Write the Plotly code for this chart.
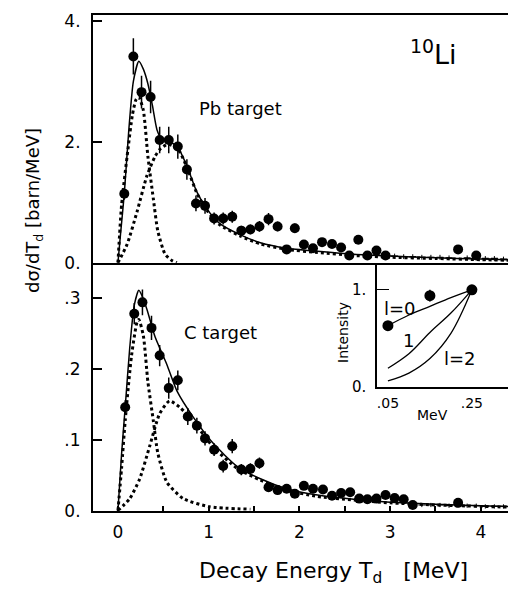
import plotly.graph_objects as go

W, H = 509, 589
FONT = "DejaVu Sans"

# ---------------- Pb target data ----------------
pb_x = [0.07, 0.17, 0.26, 0.36, 0.46, 0.56, 0.66, 0.76, 0.86, 0.96, 1.06, 1.16, 1.26, 1.36,
        1.46, 1.56, 1.66, 1.76, 1.86, 1.95, 2.05, 2.15, 2.25, 2.36, 2.46, 2.55, 2.65, 2.75,
        2.85, 2.95, 3.75, 3.95]
pb_y = [1.14, 3.41, 2.82, 2.74, 2.03, 2.03, 1.92, 1.54, 0.98, 0.94, 0.73, 0.73, 0.76, 0.53,
        0.55, 0.60, 0.72, 0.60, 0.22, 0.57, 0.30, 0.24, 0.34, 0.31, 0.25, 0.12, 0.38, 0.12,
        0.20, 0.12, 0.22, 0.12]
pb_err = [0.10, 0.30, 0.27, 0.27, 0.22, 0.22, 0.20, 0.17, 0.13, 0.13, 0.10, 0.10, 0.10, 0.08,
          0.08, 0.09, 0.10, 0.08, 0.06, 0.08, 0.06, 0.06, 0.06, 0.06, 0.06, 0.05, 0.06, 0.05,
          0.05, 0.05, 0.05, 0.05]
pb_tail_x = [3.05, 3.15, 3.25, 3.35, 3.45, 3.55, 3.65, 3.85, 4.05, 4.15, 4.25]
pb_tail_y = [0.11, 0.10, 0.10, 0.09, 0.09, 0.09, 0.08, 0.08, 0.07, 0.07, 0.06]
pb_tail_err = [0.04, 0.04, 0.04, 0.04, 0.04, 0.04, 0.04, 0.04, 0.04, 0.04, 0.04]

pb_tot_x = [0, 0.03, 0.07, 0.12, 0.17, 0.23, 0.28, 0.33, 0.38, 0.43, 0.48, 0.57, 0.66, 0.76,
            0.87, 0.98, 1.12, 1.35, 1.57, 1.86, 2.2, 2.6, 3.0, 3.5, 4.0, 4.3]
pb_tot_y = [0, 0.5, 1.14, 2.2, 3.0, 3.33, 3.2, 2.96, 2.6, 2.2, 2.05, 2.0, 1.91, 1.60,
            1.17, 0.89, 0.65, 0.46, 0.33, 0.24, 0.19, 0.14, 0.11, 0.08, 0.06, 0.05]
pb_nar_x = [0, 0.04, 0.11, 0.16, 0.20, 0.23, 0.28, 0.33, 0.39, 0.44, 0.52, 0.60, 0.65]
pb_nar_y = [0, 0.95, 1.87, 2.45, 2.70, 2.74, 2.52, 1.76, 1.06, 0.52, 0.14, 0.03, 0]
pb_brd_x = [0, 0.10, 0.21, 0.32, 0.41, 0.46, 0.55, 0.66, 0.76, 0.87, 0.98, 1.12, 1.35, 1.57,
            1.86, 2.2, 2.6, 3.0, 3.5, 4.0, 4.3]
pb_brd_y = [0, 0.30, 0.84, 1.44, 1.76, 1.87, 1.96, 1.88, 1.58, 1.15, 0.87, 0.63, 0.44, 0.31,
            0.22, 0.17, 0.12, 0.09, 0.07, 0.05, 0.04]

# ---------------- C target data ----------------
c_x = [0.08, 0.18, 0.27, 0.37, 0.46, 0.56, 0.66, 0.77, 0.87, 0.96, 1.06, 1.16, 1.26, 1.36,
       1.46, 1.56, 1.66, 1.76, 1.86, 1.95, 2.05, 2.15, 2.26, 2.36, 2.46, 2.56, 2.66, 2.75,
       2.85, 2.95, 3.05, 3.15, 3.25, 3.75]
c_y = [0.146, 0.278, 0.294, 0.258, 0.219, 0.173, 0.184, 0.133, 0.120, 0.102, 0.086, 0.063,
       0.091, 0.058, 0.059, 0.067, 0.033, 0.029, 0.031, 0.024, 0.035, 0.031, 0.030, 0.021,
       0.025, 0.026, 0.017, 0.016, 0.017, 0.022, 0.018, 0.016, 0.008, 0.011]
c_err = [0.010, 0.015, 0.018, 0.017, 0.015, 0.015, 0.014, 0.012, 0.011, 0.010, 0.009, 0.009,
         0.010, 0.008, 0.008, 0.008, 0.006, 0.006, 0.006, 0.005, 0.005, 0.005, 0.005, 0.005,
         0.005, 0.005, 0.005, 0.005, 0.005, 0.005, 0.005, 0.005, 0.004, 0.004]
c_tail_x = [3.35, 3.45, 3.55, 3.65, 3.85, 3.95, 4.05, 4.15, 4.25]
c_tail_y = [0.008, 0.008, 0.008, 0.007, 0.007, 0.007, 0.006, 0.006, 0.006]
c_tail_err = [0.003, 0.003, 0.003, 0.003, 0.003, 0.003, 0.003, 0.003, 0.003]

c_tot_x = [0, 0.04, 0.08, 0.13, 0.18, 0.23, 0.27, 0.32, 0.41, 0.54, 0.65, 0.83, 1.05, 1.31,
           1.57, 1.86, 2.2, 2.6, 3.0, 3.5, 4.0, 4.3]
c_tot_y = [0, 0.08, 0.146, 0.23, 0.29, 0.311, 0.302, 0.284, 0.245, 0.206, 0.169, 0.132, 0.095,
           0.063, 0.045, 0.031, 0.022, 0.016, 0.012, 0.009, 0.007, 0.006]
c_nar_x = [0, 0.04, 0.08, 0.15, 0.21, 0.23, 0.28, 0.33, 0.39, 0.44, 0.54, 0.72, 1.01, 1.46]
c_nar_y = [0, 0.06, 0.127, 0.219, 0.266, 0.27, 0.247, 0.182, 0.127, 0.081, 0.040, 0.017,
           0.0055, 0.002]
c_brd_x = [0, 0.13, 0.24, 0.35, 0.46, 0.57, 0.68, 0.83, 1.05, 1.31, 1.57, 1.86, 2.2, 2.6, 3.0,
           3.5, 4.0, 4.3]
c_brd_y = [0, 0.017, 0.045, 0.091, 0.137, 0.155, 0.146, 0.126, 0.090, 0.060, 0.043, 0.029,
           0.020, 0.015, 0.011, 0.008, 0.006, 0.005]

# ---------------- inset ----------------
in_x = [0.05, 0.15, 0.25]
in_y = [0.63, 0.94, 1.0]
in_err = [0.03, 0.06, 0.03]
cur_x = [0.05, 0.10, 0.15, 0.20, 0.25]
l0_y = [0.63, 0.74, 0.83, 0.92, 1.0]
l1_y = [0.19, 0.34, 0.56, 0.76, 1.0]
l2_y = [0.06, 0.14, 0.29, 0.55, 1.0]

x_major = [0, 1, 2, 3, 4]
x_major_text = ["0", "1", "2", "3", "4"]
x_minor = [0.5, 1.5, 2.5, 3.5]

# ---------------- figure ----------------
def px2x(p):
    return p / W

def px2y(p):
    return (H - p) / H

fig = go.Figure()

DOT = "3px,3px"

def add_panel(xa, ya, dx, dy, de, tx, ty, te, totx, toty, nx, ny, bx, by, msz=10):
    fig.add_trace(go.Scatter(x=bx, y=by, mode="lines", line=dict(color="black", width=3, dash=DOT, shape="spline", smoothing=0.6),
                             xaxis=xa, yaxis=ya, showlegend=False, hoverinfo="skip"))
    fig.add_trace(go.Scatter(x=nx, y=ny, mode="lines", line=dict(color="black", width=3, dash=DOT, shape="spline", smoothing=0.6),
                             xaxis=xa, yaxis=ya, showlegend=False, hoverinfo="skip"))
    fig.add_trace(go.Scatter(x=totx, y=toty, mode="lines", line=dict(color="black", width=1.5, shape="spline", smoothing=0.6),
                             xaxis=xa, yaxis=ya, showlegend=False, hoverinfo="skip"))
    fig.add_trace(go.Scatter(x=tx, y=ty, mode="markers",
                             marker=dict(symbol="line-ew", size=5, line=dict(color="black", width=1.2)),
                             error_y=dict(type="data", array=te, color="black", thickness=1, width=0),
                             xaxis=xa, yaxis=ya, showlegend=False, hoverinfo="skip"))
    fig.add_trace(go.Scatter(x=dx, y=dy, mode="markers",
                             marker=dict(symbol="circle", size=msz, color="black"),
                             error_y=dict(type="data", array=de, color="black", thickness=1.5, width=0),
                             xaxis=xa, yaxis=ya, showlegend=False, hoverinfo="skip"))

add_panel("x2", "y2", pb_x, pb_y, pb_err, pb_tail_x, pb_tail_y, pb_tail_err,
          pb_tot_x, pb_tot_y, pb_nar_x, pb_nar_y, pb_brd_x, pb_brd_y)
add_panel("x", "y", c_x, c_y, c_err, c_tail_x, c_tail_y, c_tail_err,
          c_tot_x, c_tot_y, c_nar_x, c_nar_y, c_brd_x, c_brd_y)

# inset traces
for yy in (l0_y, l1_y, l2_y):
    fig.add_trace(go.Scatter(x=cur_x, y=yy, mode="lines", line=dict(color="black", width=1.3, shape="spline"),
                             xaxis="x3", yaxis="y3", showlegend=False, hoverinfo="skip"))
fig.add_trace(go.Scatter(x=in_x, y=in_y, mode="markers", marker=dict(size=11, color="black"),
                         error_y=dict(type="data", array=in_err, color="black", thickness=1.5, width=0),
                         xaxis="x3", yaxis="y3", showlegend=False, hoverinfo="skip"))

xr = [-0.275, 4.3]
dom_x = [px2x(93), px2x(508)]
top_dom = [px2y(265), px2y(11)]
bot_dom = [px2y(519), px2y(265)]
tickfont = dict(family=FONT, size=17, color="black")

fig.update_layout(
    width=W, height=H,
    margin=dict(l=0, r=0, t=0, b=0),
    paper_bgcolor="white", plot_bgcolor="rgba(0,0,0,0)",
    showlegend=False,
    xaxis=dict(domain=dom_x, range=xr, anchor="y", showline=True, linewidth=2, linecolor="black",
               showgrid=False, zeroline=False, ticks="inside", ticklen=5, tickwidth=1.5, tickcolor="black",
               tickvals=x_major, ticktext=x_major_text, tickfont=dict(family=FONT, size=17, color="black"),
               ticklabelstandoff=5,
               minor=dict(tickvals=x_minor, ticks="inside", ticklen=5, tickwidth=1.5, tickcolor="black", showgrid=False)),
    yaxis=dict(domain=bot_dom, range=[0, 0.35], anchor="x", showline=True, linewidth=2, linecolor="black",
               showgrid=False, zeroline=False, ticks="inside", ticklen=9, tickwidth=1.5, tickcolor="black",
               tickvals=[0, 0.1, 0.2, 0.3], ticktext=["0.", ".1", ".2", ".3"], tickfont=tickfont,
               ticklabelstandoff=7),
    xaxis2=dict(domain=dom_x, range=xr, anchor="y2", matches="x", showline=True, mirror=True, linewidth=2,
                linecolor="black", showgrid=False, zeroline=False, showticklabels=False, ticks=""),
    yaxis2=dict(domain=top_dom, range=[0, 4.1], anchor="x2", showline=True, linewidth=2, linecolor="black",
                showgrid=False, zeroline=False, ticks="inside", ticklen=9, tickwidth=1.5, tickcolor="black",
                tickvals=[0, 2, 4], ticktext=["0.", "2.", "4."], tickfont=tickfont, ticklabelstandoff=7),
    xaxis3=dict(domain=[px2x(377), px2x(508)], range=[0.024, 0.336], anchor="y3", showline=True, linewidth=1.5,
                linecolor="black", showgrid=False, zeroline=False, ticks="", tickvals=[0.05, 0.25],
                ticktext=[".05", ".25"], tickfont=dict(family=FONT, size=14, color="black"), ticklabelstandoff=3),
    yaxis3=dict(domain=[px2y(392), px2y(265)], range=[0, 1.28], anchor="x3", showline=True, linewidth=1.5,
                linecolor="black", showgrid=False, zeroline=False, ticks="inside", ticklen=12, tickwidth=1.2,
                tickcolor="black", tickvals=[0, 1], ticktext=["0.", "1."],
                tickfont=dict(family=FONT, size=15, color="black"), ticklabelstandoff=6),
)

def ann(text, x, y, size, angle=0, xanchor="center"):
    fig.add_annotation(text=text, x=px2x(x), y=px2y(y), xref="paper", yref="paper", showarrow=False,
                       textangle=angle, xanchor=xanchor, yanchor="middle",
                       font=dict(family=FONT, size=size, color="black"))

ann("Pb target", 240, 107, 18)
ann("C target", 220, 336, 18)
ann("<sup>10</sup>Li", 433, 50, 27)
ann("dσ/dT<sub>d</sub> [barn/MeV]", 34, 212, 18, angle=-90)
ann("Decay Energy T<sub>d</sub>   [MeV]", 333, 582, 22)
ann("Intensity", 343, 337, 14, angle=-90)
ann("MeV", 432, 421, 14)
ann("l=0", 400, 312, 18)
ann("1", 408, 345, 18)
ann("l=2", 460, 363, 18)

fig.write_html("out.html")
